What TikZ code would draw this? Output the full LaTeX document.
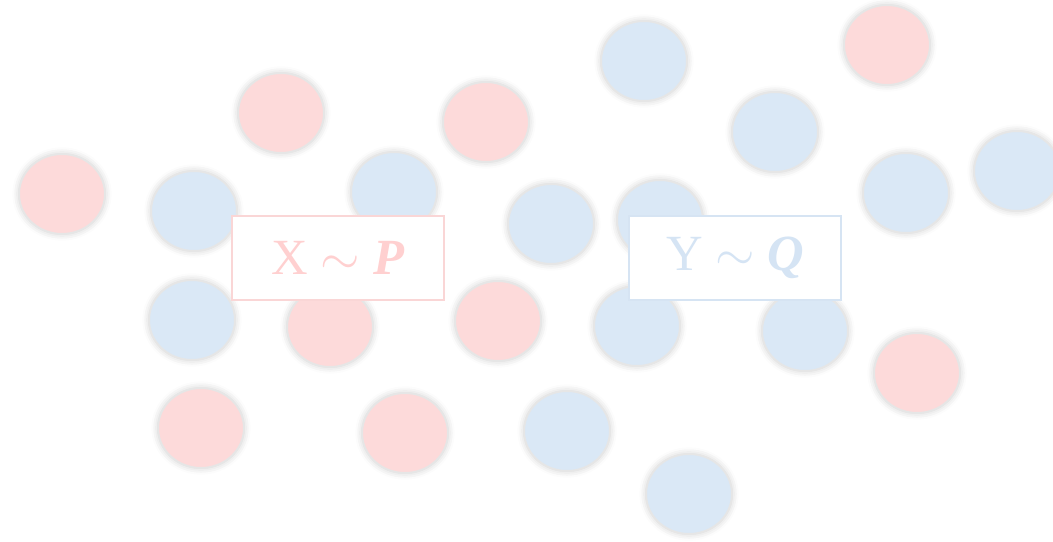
\documentclass[tikz,border=0pt]{standalone}
\usepackage{fix-cm}
\usepackage{fontspec}
\setmainfont{Liberation Serif}
\usetikzlibrary{shapes.geometric,shadows.blur}
\definecolor{pinkfill}{HTML}{FDDADA}
\definecolor{bluefill}{HTML}{DAE8F6}
\definecolor{ringgrey}{HTML}{E6E6E6}
\definecolor{pinkline}{HTML}{FAD6D6}
\definecolor{blueline}{HTML}{D6E4F3}
\definecolor{pinktext}{HTML}{FFD0D0}
\definecolor{bluetext}{HTML}{D5E4F4}
\begin{document}
\begin{tikzpicture}[x=0.75pt,y=-0.75pt,
  dot/.style={ellipse,draw=ringgrey,line width=1.5pt,inner sep=0pt,
    minimum width=64.5pt,minimum height=60pt,
    blur shadow={shadow xshift=0pt,shadow yshift=0pt,shadow blur radius=5pt,shadow opacity=20}},
  pdot/.style={dot,fill=pinkfill},
  qdot/.style={dot,fill=bluefill},
  dist/.style={draw,fill=white,line width=1.5pt,minimum width=159pt,minimum height=63pt,
    inner sep=0pt,font=\fontsize{38}{38}\selectfont}]
\useasboundingbox (0,0) rectangle (1053,542);
% samples from P
\foreach \n/\x/\y in {1/62/194,2/281/113,3/486/122,4/887/45,5/330/327,
  6/498/321,7/201/428,8/405/433,9/917/373}
  \node[pdot] (p\n) at (\x,\y) {};
% samples from Q
\foreach \n/\x/\y in {1/194/211,2/394/192,3/644/61,4/775/132,5/551/224,
  6/660/220,7/906/193,8/1017/171,9/192/320,10/637/326,11/805/331,
  12/567/431,13/689/494}
  \node[qdot] (q\n) at (\x,\y) {};
\node[dist,draw=pinkline,text=pinktext] (X) at (338,258) {X $\sim$ \textbf{\textit{P}}};
\node[dist,draw=blueline,text=bluetext] (Y) at (735,258) {Y $\sim$ \textbf{\textit{Q}}};
\end{tikzpicture}
\end{document}
